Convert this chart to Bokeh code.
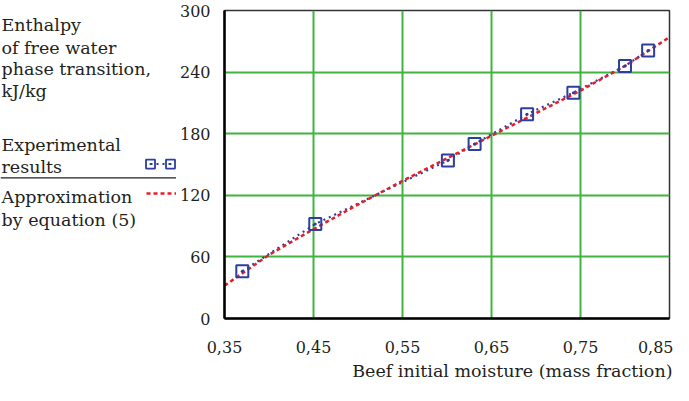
from bokeh.plotting import figure
from bokeh.layouts import row, column
from bokeh.models import Range1d, FixedTicker
from bokeh.core.properties import value
from bokeh.embed import file_html
from bokeh.resources import INLINE

# ---- data ----
moisture = [0.370, 0.452, 0.601, 0.631, 0.690, 0.742, 0.800, 0.826]
enthalpy = [46, 92, 154, 170, 199, 220, 246, 261]
approx_x = [0.35, 0.40, 0.45, 0.50, 0.55, 0.60, 0.65, 0.70, 0.75, 0.80, 0.85]
approx_y = [32, 62, 87, 111, 134, 156, 178, 200, 222, 246, 274]
x_ticks = [0.35, 0.45, 0.55, 0.65, 0.75, 0.85]
x_tick_labels = ["0,35", "0,45", "0,55", "0,65", "0,75", "0,85"]
y_ticks = [0, 60, 120, 180, 240, 300]
y_title_lines = ["Enthalpy", "of free water", "phase transition,", "kJ/kg"]
legend_exp_lines = ["Experimental", "results"]
legend_apx_lines = ["Approximation", "by equation (5)"]
x_title = "Beef initial moisture (mass fraction)"

FONT = "DejaVu Serif"
TXT_SIZE = "17.5px"
TICK_SIZE = "16px"
GREEN = "#3fb43f"
BLUE = "#2a3f9f"
RED = "#e3202a"
TXT = "#231f20"
H = 355      # height of the chart row
HS = 30      # height of the x-title strip

# ---- left panel (y title + legend) ----
lp = figure(width=176, height=H, x_range=Range1d(0, 176), y_range=Range1d(H, 0),
            output_backend="svg", toolbar_location=None,
            x_axis_type=None, y_axis_type=None,
            min_border=0, min_border_left=0, min_border_right=0,
            min_border_top=0, min_border_bottom=0)
lp.outline_line_color = None
lp.xgrid.visible = False
lp.ygrid.visible = False

lp.text(x=[1] * 4, y=[17, 43, 68, 93], text=y_title_lines,
        text_font=value(FONT), text_font_size=TXT_SIZE, text_color=TXT,
        text_baseline="alphabetic")
lp.text(x=[1] * 2, y=[155, 180], text=legend_exp_lines,
        text_font=value(FONT), text_font_size=TXT_SIZE, text_color=TXT,
        text_baseline="alphabetic")
lp.text(x=[1] * 2, y=[215, 241], text=legend_apx_lines,
        text_font=value(FONT), text_font_size=TXT_SIZE, text_color=TXT,
        text_baseline="alphabetic")
lp.line(x=[0, 176], y=[193, 193], line_color=TXT, line_width=1.3)
lp.line(x=[150, 170], y=[177, 177], line_color=BLUE, line_width=2, line_dash="dotted")
lp.scatter(x=[150, 170], y=[177, 177], marker="square_dot", size=9,
           line_color=BLUE, fill_alpha=0, line_width=1.8)
lp.line(x=[146, 176], y=[211, 211], line_color=RED, line_width=2.5, line_dash="4 3")

# ---- main plot ----
p = figure(width=497, height=H, x_range=Range1d(0.35, 0.85), y_range=Range1d(0, 300),
           output_backend="svg", toolbar_location=None,
           min_border_left=41, min_border_right=4, min_border_top=10, min_border_bottom=36)
p.background_fill_color = "white"
p.border_fill_color = "white"
p.outline_line_color = "#333333"
p.outline_line_width = 1.5

p.xaxis.ticker = FixedTicker(ticks=x_ticks)
p.yaxis.ticker = FixedTicker(ticks=y_ticks)
p.xaxis.major_label_overrides = {t: l for t, l in zip(x_ticks, x_tick_labels)}
for ax in (p.xaxis, p.yaxis):
    ax.axis_line_color = "black"
    ax.axis_line_width = 2.5
    ax.major_tick_line_color = None
    ax.minor_tick_line_color = None
    ax.major_label_text_font = FONT
    ax.major_label_text_font_size = TICK_SIZE
    ax.major_label_text_color = TXT
p.xaxis.major_label_standoff = 16
p.yaxis.major_label_standoff = 8

p.xgrid.ticker = FixedTicker(ticks=x_ticks)
p.ygrid.ticker = FixedTicker(ticks=y_ticks)
for g in (p.xgrid, p.ygrid):
    g.grid_line_color = GREEN
    g.grid_line_width = 2

p.line(moisture, enthalpy, line_color=BLUE, line_width=2.2, line_dash="dotted")
p.line(approx_x, approx_y, line_color=RED, line_width=2.5, line_dash="4 3")
p.scatter(moisture, enthalpy, marker="square_dot", size=12, line_color=BLUE,
          fill_alpha=0, line_width=2)

# ---- bottom strip with x title ----
bp = figure(width=673, height=HS, x_range=Range1d(0, 673), y_range=Range1d(HS, 0),
            output_backend="svg", toolbar_location=None,
            x_axis_type=None, y_axis_type=None,
            min_border=0, min_border_left=0, min_border_right=0,
            min_border_top=0, min_border_bottom=0)
bp.outline_line_color = None
bp.xgrid.visible = False
bp.ygrid.visible = False
bp.text(x=[672], y=[15], text=[x_title], text_font=value(FONT), text_font_size=TXT_SIZE,
        text_color=TXT, text_align="right", text_baseline="middle")

layout = column(row(lp, p), bp)
open("out.html", "w").write(file_html(layout, INLINE))
